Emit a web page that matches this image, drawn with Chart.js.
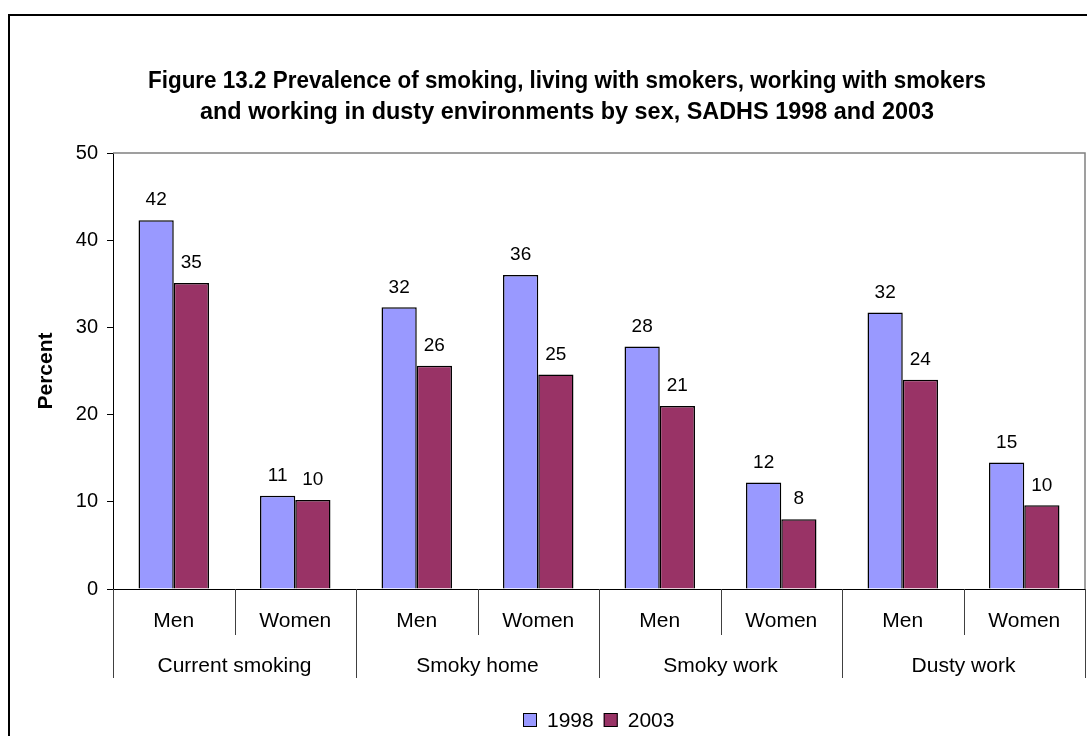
<!DOCTYPE html>
<html>
<head>
<meta charset="utf-8">
<script src="https://cdn.jsdelivr.net/npm/chart.js@4.4.1/dist/chart.umd.min.js"></script>
<style>
html,body{margin:0;padding:0;background:#fff;}
#wrap{width:1087px;height:736px;position:relative;}
</style>
</head>
<body>
<div id="wrap"><canvas id="c" width="1087" height="736"></canvas></div>
<script>
const titleLines = [
  'Figure 13.2 Prevalence of smoking, living with smokers, working with smokers',
  'and working in dusty environments by sex, SADHS 1998 and 2003'
];
const subCategories = ['Men', 'Women', 'Men', 'Women', 'Men', 'Women', 'Men', 'Women'];
const groups = ['Current smoking', 'Smoky home', 'Smoky work', 'Dusty work'];
const seriesNames = ['1998', '2003'];
const values1998 = [42.3, 10.7, 32.3, 36.0, 27.8, 12.2, 31.7, 14.5];
const values2003 = [35.1, 10.2, 25.6, 24.6, 21.0, 8.0, 24.0, 9.6];
const yTicks = [0, 10, 20, 30, 40, 50];
const colors = ['#9999FF', '#993366'];

const FONT = "'Liberation Sans', Arial, sans-serif";
const titleWidths = [838, 734];

const decor = {
  id: 'decor',
  beforeDraw(chart) {
    const ctx = chart.ctx;
    ctx.save();
    ctx.fillStyle = '#fff';
    ctx.fillRect(0, 0, chart.width, chart.height);
    ctx.strokeStyle = '#000';
    ctx.lineWidth = 2;
    ctx.strokeRect(9, 15, 3000, 3000);
    ctx.restore();
  },
  afterDraw(chart) {
    const ctx = chart.ctx;
    const ca = chart.chartArea;
    const xs = chart.scales.x;
    ctx.save();
    // plot border top/right
    ctx.strokeStyle = '#808080';
    ctx.lineWidth = 1.5;
    ctx.beginPath();
    ctx.moveTo(ca.left, ca.top);
    ctx.lineTo(ca.right, ca.top);
    ctx.lineTo(ca.right, ca.bottom);
    ctx.stroke();

    // separators
    const n = subCategories.length;
    const step = xs.getPixelForValue(1) - xs.getPixelForValue(0);
    ctx.strokeStyle = '#404040';
    ctx.lineWidth = 1;
    for (let b = 0; b <= n; b++) {
      const x = Math.round(xs.getPixelForValue(0) - step / 2 + b * step) + 0.5;
      const len = (b % 2 === 0) ? 89 : 46;
      ctx.beginPath();
      ctx.moveTo(x, ca.bottom);
      ctx.lineTo(x, ca.bottom + len);
      ctx.stroke();
    }
    // group labels
    ctx.fillStyle = '#000';
    ctx.font = '21px ' + FONT;
    ctx.textAlign = 'center';
    ctx.textBaseline = 'middle';
    groups.forEach((g, i) => {
      const x = (xs.getPixelForValue(2 * i) + xs.getPixelForValue(2 * i + 1)) / 2;
      ctx.fillText(g, x, ca.bottom + 77);
    });

    // data labels
    ctx.font = '19px ' + FONT;
    chart.data.datasets.forEach((ds, di) => {
      const meta = chart.getDatasetMeta(di);
      meta.data.forEach((bar, i) => {
        ctx.fillText(String(Math.round(ds.data[i])), bar.x, bar.y - 20);
      });
    });

    // title (condensed bold)
    ctx.font = 'bold 24px ' + FONT;
    const ys = [81, 112];
    titleLines.forEach((line, li) => {
      const w0 = ctx.measureText(line).width;
      ctx.save();
      ctx.translate(567, 0);
      ctx.scale(titleWidths[li] / w0, 1);
      ctx.fillText(line, 0, ys[li]);
      ctx.restore();
    });

    // legend
    ctx.font = '21px ' + FONT;
    ctx.textAlign = 'left';
    const ly = 720;
    let lx = 523;
    chart.data.datasets.forEach((ds) => {
      ctx.fillStyle = ds.backgroundColor;
      ctx.fillRect(lx, ly - 7, 14, 14);
      ctx.strokeStyle = '#000';
      ctx.lineWidth = 1;
      ctx.strokeRect(lx + 0.5, ly - 6.5, 13, 13);
      ctx.fillStyle = '#000';
      ctx.fillText(ds.label, lx + 24, ly + 1);
      lx += 24 + ctx.measureText(ds.label).width + 10;
    });
    ctx.restore();
  }
};

new Chart(document.getElementById('c'), {
  type: 'bar',
  data: {
    labels: subCategories,
    datasets: [
      { label: seriesNames[0], data: values1998, backgroundColor: colors[0], borderColor: '#000', borderWidth: 1.5 },
      { label: seriesNames[1], data: values2003, backgroundColor: colors[1], borderColor: '#000', borderWidth: 1.5 }
    ]
  },
  options: {
    responsive: false,
    animation: false,
    devicePixelRatio: 1,
    layout: { padding: { top: 153, right: 2, left: 0, bottom: 0 } },
    datasets: { bar: { categoryPercentage: 0.58, barPercentage: 1.0 } },
    plugins: { legend: { display: false }, title: { display: false }, tooltip: { enabled: false } },
    scales: {
      x: {
        grid: { display: true, drawOnChartArea: false, drawTicks: false },
        border: { display: true, color: '#000', width: 1 },
        ticks: { color: '#000', font: { size: 21, family: FONT }, padding: 20, maxRotation: 0, autoSkip: false },
        afterFit(scale) { scale.height = 147; }
      },
      y: {
        min: 0, max: 50,
        afterBuildTicks(scale) { scale.ticks = yTicks.map(v => ({ value: v })); },
        grid: { drawOnChartArea: false, drawTicks: true, tickLength: 6, color: '#000' },
        border: { display: true, color: '#000', width: 1 },
        ticks: { color: '#000', font: { size: 20, family: FONT }, padding: 9 },
        title: { display: true, text: 'Percent', color: '#000', font: { size: 21, weight: 'bold', family: FONT }, padding: { top: 34, bottom: 0 } },
        afterFit(scale) { scale.width = 113; }
      }
    }
  },
  plugins: [decor]
});
</script>
</body>
</html>
